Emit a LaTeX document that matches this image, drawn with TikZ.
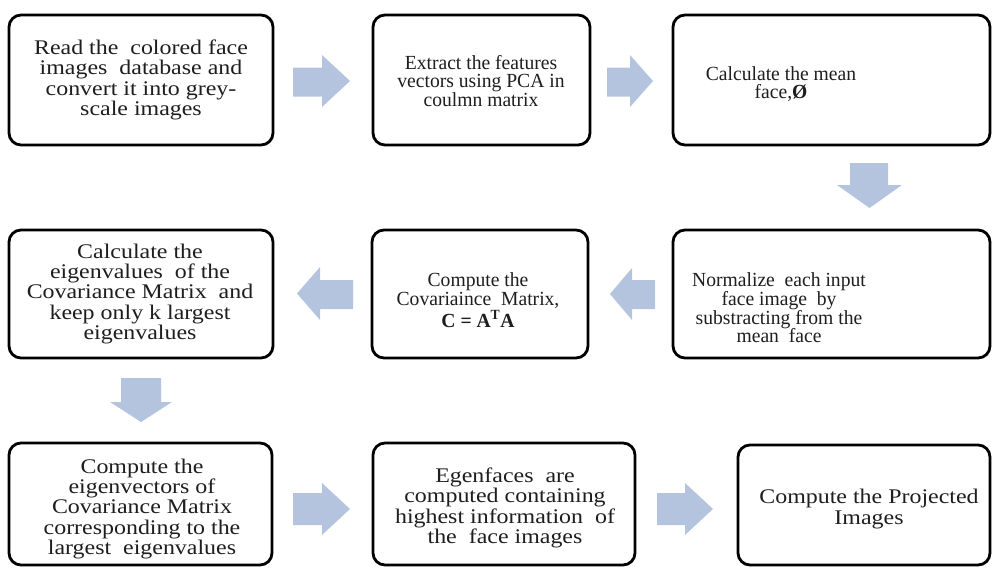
\documentclass[tikz,border=0pt]{standalone}
\usepackage{fontspec}
\setmainfont{Liberation Serif}
\newfontfamily\widefont[FakeStretch=1.15]{Liberation Serif}
\newfontfamily\normfont[FakeStretch=0.98]{Liberation Serif}
\definecolor{arrowblue}{HTML}{B4C4DE}
\definecolor{txtcol}{HTML}{1E1E1E}
\begin{document}
\begin{tikzpicture}[x=1pt,y=-1pt,
  box/.style={draw=black,line width=2.8pt,rounded corners=12pt,fill=white,inner sep=0pt},
  wtxt/.style={align=center,text=txtcol,font=\widefont\fontsize{20.8}{20.3}\selectfont,inner sep=0pt},
  ntxt/.style={align=center,text=txtcol,font=\normfont\fontsize{20}{18.6}\selectfont,inner sep=0pt},
  blockarrow/.style={fill=arrowblue,draw=none}]
\useasboundingbox (0,0) rectangle (992,568);
% boxes
\node[box,minimum width=264pt,minimum height=130pt] (b1) at (141,80) {};
\node[box,minimum width=217pt,minimum height=130pt] (b2) at (481.5,80) {};
\node[box,minimum width=317pt,minimum height=130pt] (b3) at (831.5,80) {};
\node[box,minimum width=264pt,minimum height=128pt] (b4) at (141,294) {};
\node[box,minimum width=216pt,minimum height=128pt] (b5) at (480,294) {};
\node[box,minimum width=317pt,minimum height=128pt] (b6) at (831.5,294) {};
\node[box,minimum width=263pt,minimum height=122pt] (b7) at (140.5,504) {};
\node[box,minimum width=262pt,minimum height=122pt] (b8) at (504,504) {};
\node[box,minimum width=252pt,minimum height=120pt] (b9) at (864,505) {};
% texts
\node[wtxt] (t1) at (141,80) {Read the\ \ colored face\\images\ \ database and\\convert it into grey-\\scale images};
\node[ntxt] (t2) at (481,81) {Extract the features\\vectors using PCA in\\coulmn matrix};
\node[ntxt] (t3) at (781,84) {Calculate the mean\\face,\textbf{Ø}};
\node[wtxt] (t4) at (140,294) {Calculate the\\eigenvalues\ \ of the\\Covariance Matrix\ \ and\\keep only k largest\\eigenvalues};
\node[ntxt] (t5) at (478,300) {Compute the\\Covariaince\ \ Matrix,\\[1pt]\textbf{C = A\textsuperscript{T}A}};
\node[ntxt] (t6) at (779,308) {Normalize\ \ each input\\face image\ \ by\\substracting from the\\mean\ \ face};
\node[wtxt] (t7) at (142,509) {Compute the\\eigenvectors of\\Covariance Matrix\\corresponding to the\\largest\ \ eigenvalues};
\node[wtxt] (t8) at (505,508) {Egenfaces\ \ are\\computed containing\\highest information\ \ of\\the\ \ face images};
\node[wtxt] (t9) at (869,509) {Compute the Projected\\Images};
% block arrows
% b1 -> b2
\fill[blockarrow] (293,67.5) -- (322,67.5) -- (322,55) -- (350,81) -- (322,107) -- (322,96.5) -- (293,96.5) -- cycle;
% b2 -> b3
\fill[blockarrow] (607,67.5) -- (630,67.5) -- (630,55) -- (653,81) -- (630,107) -- (630,96.5) -- (607,96.5) -- cycle;
% b3 -> b6
\fill[blockarrow] (850,163) -- (888,163) -- (888,185) -- (902,185) -- (869.5,208) -- (837,185) -- (850,185) -- cycle;
% b6 -> b5
\fill[blockarrow] (655,280) -- (632,280) -- (632,268) -- (610,294) -- (632,320) -- (632,309) -- (655,309) -- cycle;
% b5 -> b4
\fill[blockarrow] (353,280) -- (320,280) -- (320,267) -- (297,293.5) -- (320,320) -- (320,309) -- (353,309) -- cycle;
% b4 -> b7
\fill[blockarrow] (121,378) -- (161,378) -- (161,402) -- (172,402) -- (141,422) -- (110,402) -- (121,402) -- cycle;
% b7 -> b8
\fill[blockarrow] (293,493) -- (322,493) -- (322,483) -- (350,509) -- (322,535) -- (322,525) -- (293,525) -- cycle;
% b8 -> b9
\fill[blockarrow] (657,493) -- (685,493) -- (685,483) -- (713,509) -- (685,535) -- (685,525) -- (657,525) -- cycle;
\end{tikzpicture}
\end{document}
